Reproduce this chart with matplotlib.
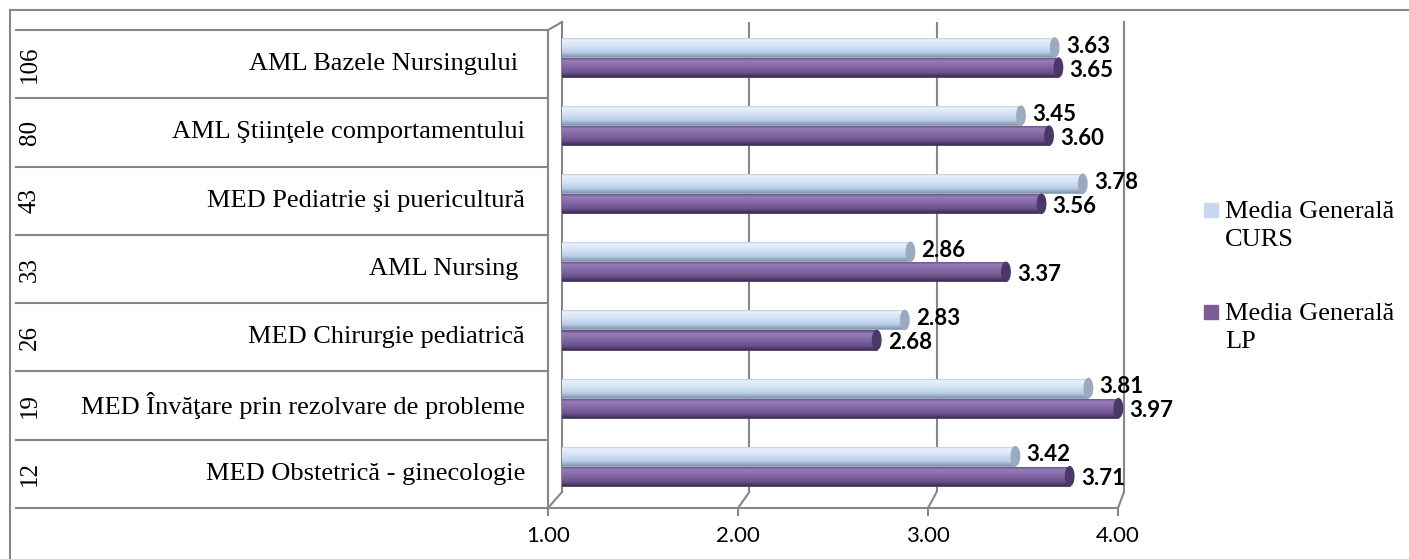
import numpy as np
import matplotlib.pyplot as plt
from matplotlib.patches import Rectangle, Ellipse
from matplotlib.lines import Line2D
from matplotlib.transforms import IdentityTransform
from matplotlib.colors import LinearSegmentedColormap

# data
codes = ['106', '80', '43', '33', '26', '19', '12']
names = ['AML Bazele Nursingului ',
         'AML Ştiinţele comportamentului',
         'MED Pediatrie şi puericultură',
         'AML Nursing ',
         'MED Chirurgie pediatrică',
         'MED Învăţare prin rezolvare de probleme',
         'MED Obstetrică - ginecologie']
curs = [3.63, 3.45, 3.78, 2.86, 2.83, 3.81, 3.42]
lp = [3.65, 3.60, 3.56, 3.37, 2.68, 3.97, 3.71]
ticks = [1, 2, 3, 4]
tick_labels = ['1.00', '2.00', '3.00', '4.00']
series_names = ['Media Generală\nCURS', 'Media Generală\nLP']

W, H = 1409, 559
GRAY = '#878787'
SERIF = 'Liberation Serif'


def rect(x0, y0, x1, y1):
    # pixel box (top-left origin) -> figure fraction
    return [x0 / W, 1 - y1 / H, (x1 - x0) / W, (y1 - y0) / H]


fig = plt.figure(figsize=(W / 100, H / 100), dpi=100)

# back wall + bars
ax = fig.add_axes(rect(562, 22, 1124, 492))
ax.set_xlim(1, 4)
ax.set_ylim(6.379, -0.521)

y = np.arange(len(codes))
h = 0.28
off = 0.147
light_cm = LinearSegmentedColormap.from_list(
    'l', [(0, '#9FB0C6'), (0.12, '#E8F0FA'), (0.4, '#D7E5F6'),
          (0.75, '#BCD0E9'), (1, '#8595AB')])
purple_cm = LinearSegmentedColormap.from_list(
    'p', [(0, '#5E4782'), (0.18, '#967DB7'), (0.5, '#8166A3'),
          (0.8, '#6A5089'), (1, '#3C2D52')])

b1 = ax.barh(y - off, np.array(curs) - 1, left=1, height=h,
             color='#C9DCF2', edgecolor='#8FA2BA', lw=0.6, zorder=3)
b2 = ax.barh(y + off, np.array(lp) - 1, left=1, height=h,
             color='#7F63A1', edgecolor='#4B3A63', lw=0.6, zorder=3)

grad = np.linspace(0, 1, 60).reshape(-1, 1)
# (bars, colormap, cap colour, values, vertical label nudge in points)
for bars, cm, cap, vals, dy in [(b1, light_cm, '#9AABC1', curs, 1),
                                (b2, purple_cm, '#4A3866', lp, -2)]:
    for p, v in zip(bars.patches, vals):
        x0, y0, w, hh = p.get_x(), p.get_y(), p.get_width(), p.get_height()
        im = ax.imshow(grad, cmap=cm, aspect='auto', origin='upper',
                       extent=[x0, x0 + w, y0 + hh, y0], zorder=3.5)
        im.set_clip_path(p)
        ax.add_patch(Ellipse((x0 + w, y0 + hh / 2), 0.045, hh,
                             color=cap, zorder=4))
        ax.annotate(f'{v:.2f}', (x0 + w, y0 + hh / 2), xytext=(8, dy),
                    textcoords='offset points', va='center', ha='left',
                    fontsize=16, fontweight='bold', family='Lato', zorder=5)

ax.set_xlim(1, 4)
ax.set_ylim(6.379, -0.521)
ax.set_xticks([2, 3])
ax.set_yticks([])
ax.grid(axis='x', color=GRAY, lw=1.5)
ax.tick_params(length=0, labelbottom=False)
for s in ['top', 'bottom']:
    ax.spines[s].set_visible(False)
for s in ['left', 'right']:
    ax.spines[s].set_color(GRAY)
    ax.spines[s].set_linewidth(1.5)

# front edge of the floor with the value ticks
ax_f = fig.add_axes(rect(548, 507, 1118, 508))
ax_f.set_xlim(1, 4)
ax_f.set_ylim(0, 1)
ax_f.patch.set_visible(False)
ax_f.set_xticks(ticks, tick_labels)
ax_f.set_yticks([])
for s in ['top', 'left', 'right']:
    ax_f.spines[s].set_visible(False)
ax_f.spines['bottom'].set_color(GRAY)
ax_f.spines['bottom'].set_linewidth(1.5)
ax_f.tick_params(axis='x', direction='out', length=6, width=1.5,
                 color=GRAY, pad=7, labelsize=16)
for t in ax_f.get_xticklabels():
    t.set_family('Lato')

# category table on the left
ax_t = fig.add_axes(rect(16, 30, 548, 508))
ax_t.set_xlim(16, 548)
ax_t.set_ylim(len(codes), 0)
ax_t.set_axis_off()
for k in range(len(codes) + 1):
    ax_t.axhline(k, color=GRAY, lw=1.5, clip_on=False)
ax_t.axvline(548, color=GRAY, lw=1.5, clip_on=False)
for k, (c, n) in enumerate(zip(codes, names)):
    ax_t.text(30, k + 0.5, c, rotation=90, ha='center', va='center',
              family=SERIF, fontsize=18)
    ax_t.text(525, k + 0.5, n, ha='right', va='center',
              family=SERIF, fontsize=19)

# 3d edges: floor diagonals and top-left corner
for v in ticks:
    fx, fy = ax_f.transData.transform((v, 0))
    bx, by = ax.transData.transform((v, ax.get_ylim()[0]))
    fig.add_artist(Line2D([fx, bx], [fy, by], transform=IdentityTransform(),
                          color=GRAY, lw=1.5))
tx, ty = ax_t.transData.transform((548, 0))
bx, by = ax.transData.transform((1, ax.get_ylim()[1]))
fig.add_artist(Line2D([tx, bx], [ty, by], transform=IdentityTransform(),
                      color=GRAY, lw=1.5))

# outer chart border
fig.add_artist(Line2D([10 / W, 10 / W], [0, 1 - 10 / H],
                      transform=fig.transFigure, color=GRAY, lw=1.5))
fig.add_artist(Line2D([10 / W, 1], [1 - 10 / H, 1 - 10 / H],
                      transform=fig.transFigure, color=GRAY, lw=1.5))

# legend
for i, (lab, col) in enumerate(zip(series_names, ['#C6D9F1', '#7B5E99'])):
    yc = 210 + 102 * i
    fig.add_artist(Rectangle((1204 / W, 1 - (yc + 7) / H), 14 / W, 14 / H,
                             transform=fig.transFigure, color=col))
    fig.text(1225 / W, 1 - (yc + 16) / H, lab, va='center', ha='left',
             family=SERIF, fontsize=19, linespacing=1.35)

fig.savefig('out.png', dpi=100)
